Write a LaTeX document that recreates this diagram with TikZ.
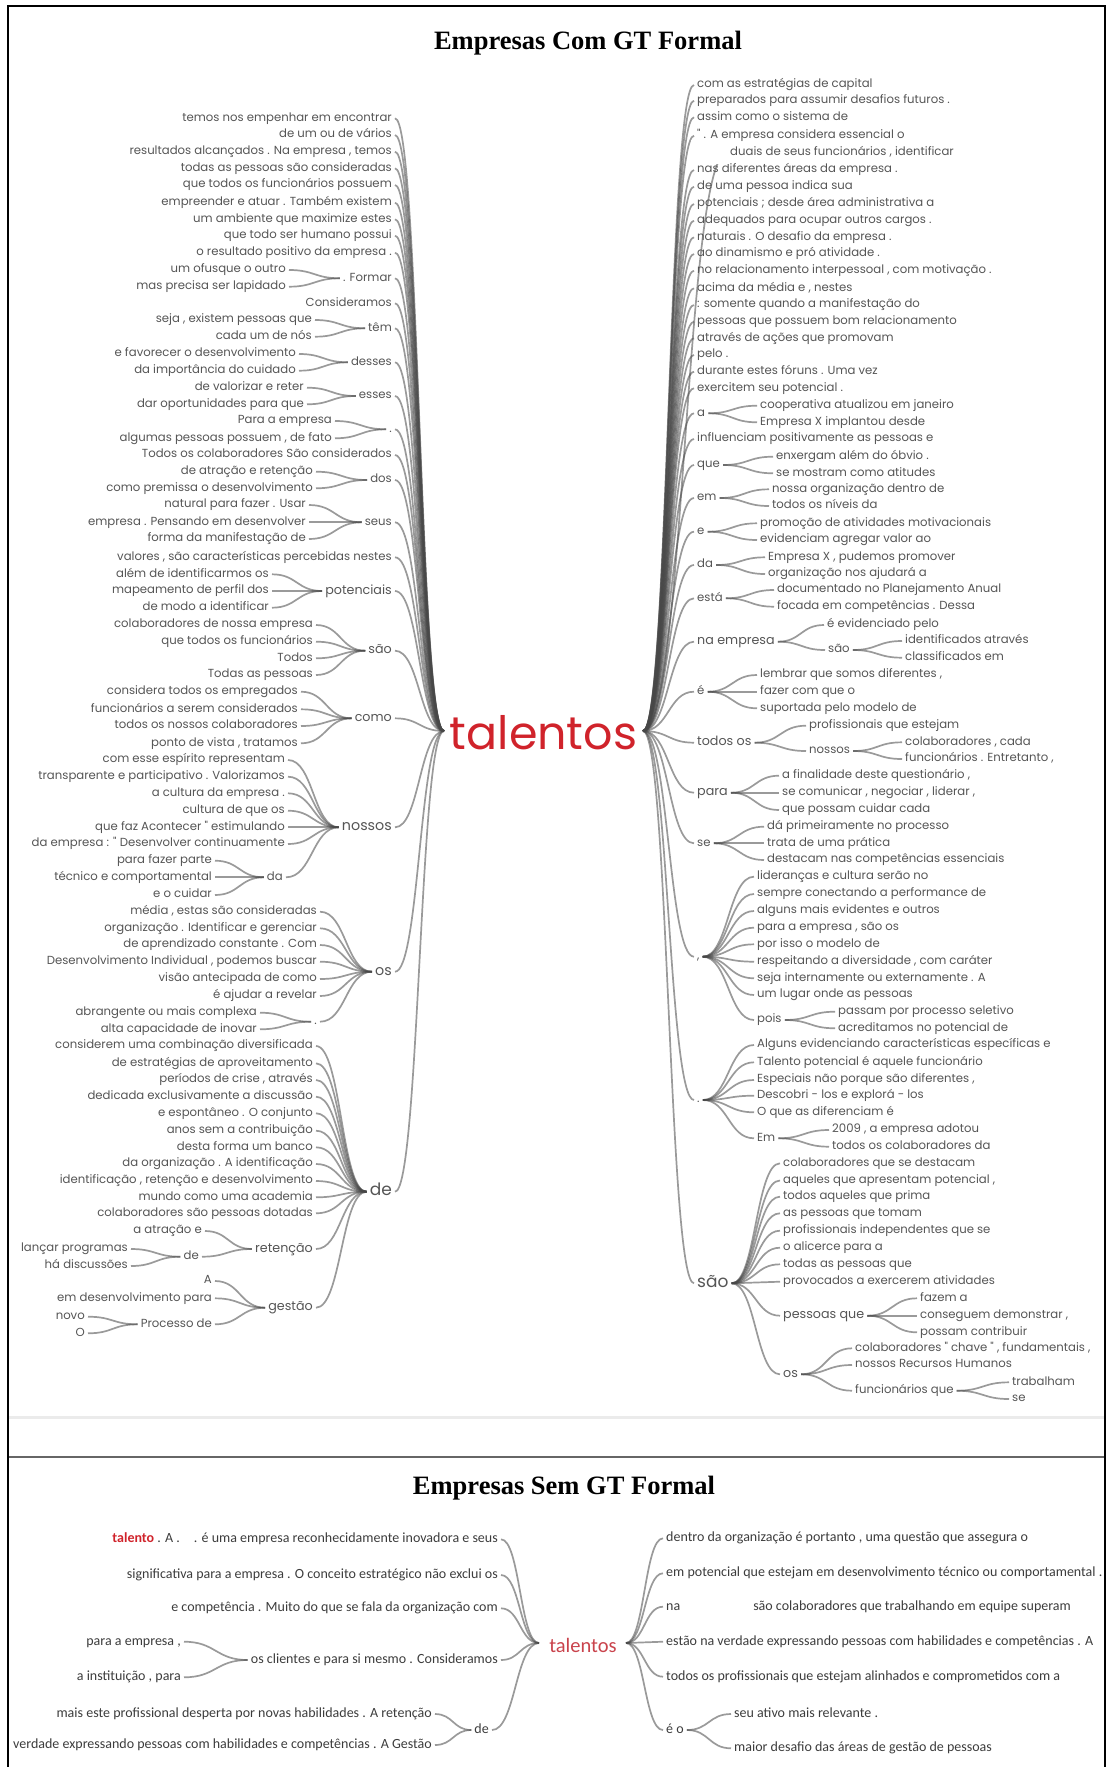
\documentclass[tikz,border=0pt]{standalone}
\usepackage{fontspec}
\setmainfont{Liberation Serif}
\newfontfamily\treefont{Poppins}
\newfontfamily\calfont{Carlito}
\usetikzlibrary{calc}

\definecolor{txt}{HTML}{555555}
\definecolor{btxt}{HTML}{3C3C3C}
\definecolor{hot}{HTML}{D0232B}
\definecolor{hotsoft}{HTML}{C9434C}

\tikzset{
  wt/.style={font=\treefont\fontsize{11.7}{13}\selectfont, text=txt,
    inner xsep=3pt, inner ysep=0pt, text height=8.2pt, text depth=2.4pt},
  wL/.style={wt, anchor=east},
  wR/.style={wt, anchor=west},
  mid/.style={font=\treefont\fontsize{12.7}{14}\selectfont, text height=9pt, text depth=3pt},
  med/.style={font=\treefont\fontsize{14.3}{16}\selectfont, text height=10pt, text depth=3pt},
  big/.style={font=\treefont\fontsize{17}{19}\selectfont, text height=12pt, text depth=4pt},
  bw/.style={font=\calfont\fontsize{14}{16}\selectfont, text=btxt,
    text height=10pt, text depth=3pt},
  link/.style={draw=black!72, draw opacity=0.55, line width=1.7pt},
  title/.style={font=\bfseries\fontsize{26.5}{30}\selectfont, inner sep=0pt},
}

% curved word-tree branch with horizontal ends
\newcommand\tlink[2]{\draw[link] let \p1=(#1), \p2=(#2), \n1={(\x1+\x2)/2} in
  (\p1) .. controls (\n1,\y1) and (\n1,\y2) .. (\p2);}
% child placed to the left / right of its parent
\newcommand\kidL[6][]{\node[wL,#1] (#3) at (#4,#5) {#6}; \tlink{#2}{#3.east}}
\newcommand\kidR[6][]{\node[wR,#1] (#3) at (#4,#5) {#6}; \tlink{#2}{#3.west}}

\begin{document}
\begin{tikzpicture}[x=1pt,y=-1pt]
\useasboundingbox (0,0) rectangle (1107,1767);

% frame and separators
\draw[line width=2.2pt] (8,1767) -- (8,6) -- (1105,6) -- (1105,1767);
\draw[black!8, line width=3pt] (9,1417) -- (1104,1417);
\draw[black!60, line width=2pt] (9,1457) -- (1104,1457);

\node[title] (tA) at (588,43) {Empresas Com GT Formal};
\node[title] (tB) at (564,1488) {Empresas Sem GT Formal};

% ================= upper word tree =================
\node[font=\treefont\fontsize{46}{46}\selectfont, text=hot, inner sep=0pt] (tal) at (543.5,733) {talentos};
\coordinate (hubL) at (444,731);
\coordinate (hubR) at (643,731);

% ---- left branches ----
\kidL{hubL}{l1}{395}{118.3}{temos nos empenhar em encontrar}
\kidL{hubL}{l2}{395}{135}{de um ou de vários}
\kidL{hubL}{l3}{395}{151.7}{resultados alcançados . Na empresa , temos}
\kidL{hubL}{l4}{395}{168.3}{todas as pessoas são consideradas}
\kidL{hubL}{l5}{395}{185}{que todos os funcionários possuem}
\kidL{hubL}{l6}{395}{202.7}{empreender e atuar . Também existem}
\kidL{hubL}{l7}{395}{219.3}{um ambiente que maximize estes}
\kidL{hubL}{l8}{395}{235.7}{que todo ser humano possui}
\kidL{hubL}{l9}{395}{252.7}{o resultado positivo da empresa .}
\kidL{hubL}{l10}{395}{278.3}{. Formar}
  \kidL{l10.west}{l10a}{289}{270}{um ofusque o outro}
  \kidL{l10.west}{l10b}{289}{286.7}{mas precisa ser lapidado}
\kidL{hubL}{l11}{395}{303.3}{Consideramos}
\kidL{hubL}{l12}{395}{328.3}{têm}
  \kidL{l12.west}{l12a}{315}{320}{seja , existem pessoas que}
  \kidL{l12.west}{l12b}{315}{336.7}{cada um de nós}
\kidL{hubL}{l13}{395}{362.3}{desses}
  \kidL{l13.west}{l13a}{299}{354}{e favorecer o desenvolvimento}
  \kidL{l13.west}{l13b}{299}{370.7}{da importância do cuidado}
\kidL{hubL}{l14}{395}{396}{esses}
  \kidL{l14.west}{l14a}{307}{387.7}{de valorizar e reter}
  \kidL{l14.west}{l14b}{307}{404.3}{dar oportunidades para que}
\kidL{hubL}{l15}{395}{429.3}{.}
  \kidL{l15.west}{l15a}{335}{421}{Para a empresa}
  \kidL{l15.west}{l15b}{335}{438.3}{algumas pessoas possuem , de fato}
\kidL{hubL}{l16}{395}{455}{Todos os colaboradores São considerados}
\kidL{hubL}{l17}{395}{480}{dos}
  \kidL{l17.west}{l17a}{316}{471.7}{de atração e retenção}
  \kidL{l17.west}{l17b}{316}{488.3}{como premissa o desenvolvimento}
\kidL{hubL}{l18}{395}{522.3}{seus}
  \kidL{l18.west}{l18a}{309}{505}{natural para fazer . Usar}
  \kidL{l18.west}{l18b}{309}{522.3}{empresa . Pensando em desenvolver}
  \kidL{l18.west}{l18c}{309}{539}{forma da manifestação de}
\kidL{hubL}{l19}{395}{557.3}{valores , são características percebidas nestes}
\kidL[mid]{hubL}{l20}{395}{591}{potenciais}
  \kidL{l20.west}{l20a}{272}{574.3}{além de identificarmos os}
  \kidL{l20.west}{l20b}{272}{591}{mapeamento de perfil dos}
  \kidL{l20.west}{l20c}{272}{607.7}{de modo a identificar}
\kidL[mid]{hubL}{l21}{395}{650.7}{são}
  \kidL{l21.west}{l21a}{316}{625}{colaboradores de nossa empresa}
  \kidL{l21.west}{l21b}{316}{641.7}{que todos os funcionários}
  \kidL{l21.west}{l21c}{316}{658.3}{Todos}
  \kidL{l21.west}{l21d}{316}{675}{Todas as pessoas}
\kidL[mid]{hubL}{l22}{395}{718.3}{como}
  \kidL{l22.west}{l22a}{301}{691.7}{considera todos os empregados}
  \kidL{l22.west}{l22b}{301}{709.3}{funcionários a serem considerados}
  \kidL{l22.west}{l22c}{301}{726}{todos os nossos colaboradores}
  \kidL{l22.west}{l22d}{301}{743.3}{ponto de vista , tratamos}
\kidL[med]{hubL}{l23}{395}{827.3}{nossos}
  \kidL{l23.west}{l23a}{288}{760}{com esse espírito representam}
  \kidL{l23.west}{l23b}{288}{776.7}{transparente e participativo . Valorizamos}
  \kidL{l23.west}{l23c}{288}{793.3}{a cultura da empresa .}
  \kidL{l23.west}{l23d}{288}{810.7}{cultura de que os}
  \kidL{l23.west}{l23e}{288}{827.3}{que faz Acontecer " estimulando}
  \kidL{l23.west}{l23f}{288}{844}{da empresa : " Desenvolver continuamente}
  \kidL{l23.west}{l23g}{286}{877.3}{da}
    \kidL{l23g.west}{l23ga}{215}{860.7}{para fazer parte}
    \kidL{l23g.west}{l23gb}{215}{877.3}{técnico e comportamental}
    \kidL{l23g.west}{l23gc}{215}{895}{e o cuidar}
\kidL[med]{hubL}{l24}{395}{971.7}{os}
  \kidL{l24.west}{l24a}{320}{911.7}{média , estas são consideradas}
  \kidL{l24.west}{l24b}{320}{928.3}{organização . Identificar e gerenciar}
  \kidL{l24.west}{l24c}{320}{945}{de aprendizado constante . Com}
  \kidL{l24.west}{l24d}{320}{961.7}{Desenvolvimento Individual , podemos buscar}
  \kidL{l24.west}{l24e}{320}{979}{visão antecipada de como}
  \kidL{l24.west}{l24f}{320}{996}{é ajudar a revelar}
  \kidL{l24.west}{l24g}{320}{1021.7}{.}
    \kidL{l24g.west}{l24ga}{260}{1012.7}{abrangente ou mais complexa}
    \kidL{l24g.west}{l24gb}{260}{1029.3}{alta capacidade de inovar}
\kidL[big]{hubL}{l25}{395}{1191.7}{de}
  \kidL{l25.west}{l25a}{316}{1046}{considerem uma combinação diversificada}
  \kidL{l25.west}{l25b}{316}{1063.3}{de estratégias de aproveitamento}
  \kidL{l25.west}{l25c}{316}{1080}{períodos de crise , através}
  \kidL{l25.west}{l25d}{316}{1096.7}{dedicada exclusivamente a discussão}
  \kidL{l25.west}{l25e}{316}{1113.3}{e espontâneo . O conjunto}
  \kidL{l25.west}{l25f}{316}{1130.7}{anos sem a contribuição}
  \kidL{l25.west}{l25g}{316}{1147.3}{desta forma um banco}
  \kidL{l25.west}{l25h}{316}{1164}{da organização . A identificação}
  \kidL{l25.west}{l25i}{316}{1181}{identificação , retenção e desenvolvimento}
  \kidL{l25.west}{l25j}{316}{1197.3}{mundo como uma academia}
  \kidL{l25.west}{l25k}{316}{1213.3}{colaboradores são pessoas dotadas}
  \kidL[mid]{l25.west}{l25l}{316}{1249}{retenção}
    \kidL{l25l.west}{l25la}{205}{1231}{a atração e}
    \kidL{l25l.west}{l25lb}{202}{1256.7}{de}
      \kidL{l25lb.west}{l25lba}{131}{1249}{lançar programas}
      \kidL{l25lb.west}{l25lbb}{131}{1266}{há discussões}
  \kidL[mid]{l25.west}{l25m}{316}{1307.7}{gestão}
    \kidL{l25m.west}{l25ma}{215}{1281}{A}
    \kidL{l25m.west}{l25mb}{215}{1298.3}{em desenvolvimento para}
    \kidL{l25m.west}{l25mc}{215}{1324.3}{Processo de}
      \kidL{l25mc.west}{l25mca}{88}{1316.7}{novo}
      \kidL{l25mc.west}{l25mcb}{88}{1333.3}{O}

% ---- right branches ----
\kidR{hubR}{r1}{694}{85}{com as estratégias de capital}
\kidR{hubR}{r2}{694}{100.7}{preparados para assumir desafios futuros .}
\kidR{hubR}{r3}{694}{117.3}{assim como o sistema de}
\kidR{hubR}{r4}{694}{135.7}{" . A empresa considera essencial o}
\kidR{hubR}{r5}{727}{152.7}{duais de seus funcionários , identificar}
\kidR{hubR}{r6}{694}{170}{nas diferentes áreas da empresa .}
\kidR{hubR}{r7}{694}{186.7}{de uma pessoa indica sua}
\kidR{hubR}{r8}{694}{204}{potenciais ; desde área administrativa a}
\kidR{hubR}{r9}{694}{220.7}{adequados para ocupar outros cargos .}
\kidR{hubR}{r10}{694}{237.3}{naturais . O desafio da empresa .}
\kidR{hubR}{r11}{694}{254}{ao dinamismo e pró atividade .}
\kidR{hubR}{r12}{694}{270.7}{no relacionamento interpessoal , com motivação .}
\kidR{hubR}{r13}{694}{288.3}{acima da média e , nestes}
\kidR{hubR}{r14}{694}{305}{: somente quando a manifestação do}
\kidR{hubR}{r15}{694}{321.7}{pessoas que possuem bom relacionamento}
\kidR{hubR}{r16}{694}{338.3}{através de ações que promovam}
\kidR{hubR}{r17}{694}{355}{pelo .}
\kidR{hubR}{r18}{694}{371.7}{durante estes fóruns . Uma vez}
\kidR{hubR}{r19}{694}{388.3}{exercitem seu potencial .}
\kidR{hubR}{r20}{694}{413.3}{a}
  \kidR{r20.east}{r20a}{757}{405.7}{cooperativa atualizou em janeiro}
  \kidR{r20.east}{r20b}{757}{422.3}{Empresa X implantou desde}
\kidR{hubR}{r21}{694}{439}{influenciam positivamente as pessoas e}
\kidR{hubR}{r22}{694}{465}{que}
  \kidR{r22.east}{r22a}{773}{456.7}{enxergam além do óbvio .}
  \kidR{r22.east}{r22b}{773}{473.3}{se mostram como atitudes}
\kidR{hubR}{r23}{694}{498}{em}
  \kidR{r23.east}{r23a}{769}{489.3}{nossa organização dentro de}
  \kidR{r23.east}{r23b}{769}{506}{todos os níveis da}
\kidR{hubR}{r24}{694}{531.7}{e}
  \kidR{r24.east}{r24a}{757}{523.3}{promoção de atividades motivacionais}
  \kidR{r24.east}{r24b}{757}{540}{evidenciam agregar valor ao}
\kidR{hubR}{r25}{694}{565}{da}
  \kidR{r25.east}{r25a}{765}{557.3}{Empresa X , pudemos promover}
  \kidR{r25.east}{r25b}{765}{574}{organização nos ajudará a}
\kidR{hubR}{r26}{694}{598.3}{está}
  \kidR{r26.east}{r26a}{774}{590}{documentado no Planejamento Anual}
  \kidR{r26.east}{r26b}{774}{606.7}{focada em competências . Dessa}
\kidR[mid]{hubR}{r27}{694}{641.7}{na empresa}
  \kidR{r27.east}{r27a}{824}{625}{é evidenciado pelo}
  \kidR{r27.east}{r27b}{825}{650}{são}
    \kidR{r27b.east}{r27ba}{902}{641}{identificados através}
    \kidR{r27b.east}{r27bb}{902}{657.7}{classificados em}
\kidR{hubR}{r28}{694}{691.7}{é}
  \kidR{r28.east}{r28a}{757}{675}{lembrar que somos diferentes ,}
  \kidR{r28.east}{r28b}{757}{691.7}{fazer com que o}
  \kidR{r28.east}{r28c}{757}{708.3}{suportada pelo modelo de}
\kidR[mid]{hubR}{r29}{694}{742.7}{todos os}
  \kidR{r29.east}{r29a}{806}{725.7}{profissionais que estejam}
  \kidR{r29.east}{r29b}{806}{751}{nossos}
    \kidR{r29b.east}{r29ba}{902}{742.3}{colaboradores , cada}
    \kidR{r29b.east}{r29bb}{902}{759}{funcionários . Entretanto ,}
\kidR[mid]{hubR}{r30}{694}{792.7}{para}
  \kidR{r30.east}{r30a}{779}{775.7}{a finalidade deste questionário ,}
  \kidR{r30.east}{r30b}{779}{792.7}{se comunicar , negociar , liderar ,}
  \kidR{r30.east}{r30c}{779}{810}{que possam cuidar cada}
\kidR{hubR}{r31}{694}{843.3}{se}
  \kidR{r31.east}{r31a}{764}{826.7}{dá primeiramente no processo}
  \kidR{r31.east}{r31b}{764}{843.3}{trata de uma prática}
  \kidR{r31.east}{r31c}{764}{860}{destacam nas competências essenciais}
\kidR{hubR}{r32}{694}{956.7}{,}
  \kidR{r32.east}{r32a}{754}{876.7}{lideranças e cultura serão no}
  \kidR{r32.east}{r32b}{754}{894}{sempre conectando a performance de}
  \kidR{r32.east}{r32c}{754}{911}{alguns mais evidentes e outros}
  \kidR{r32.east}{r32d}{754}{927.7}{para a empresa , são os}
  \kidR{r32.east}{r32e}{754}{944.3}{por isso o modelo de}
  \kidR{r32.east}{r32f}{754}{961.7}{respeitando a diversidade , com caráter}
  \kidR{r32.east}{r32g}{754}{978.3}{seja internamente ou externamente . A}
  \kidR{r32.east}{r32h}{754}{995}{um lugar onde as pessoas}
  \kidR{r32.east}{r32i}{754}{1020}{pois}
    \kidR{r32i.east}{r32ia}{835}{1011.7}{passam por processo seletivo}
    \kidR{r32i.east}{r32ib}{835}{1028.3}{acreditamos no potencial de}
\kidR{hubR}{r33}{694}{1100}{.}
  \kidR{r33.east}{r33a}{754}{1045}{Alguns evidenciando características específicas e}
  \kidR{r33.east}{r33b}{754}{1062.3}{Talento potencial é aquele funcionário}
  \kidR{r33.east}{r33c}{754}{1080}{Especiais não porque são diferentes ,}
  \kidR{r33.east}{r33d}{754}{1095.7}{Descobri - los e explorá - los}
  \kidR{r33.east}{r33e}{754}{1112.3}{O que as diferenciam é}
  \kidR{r33.east}{r33f}{754}{1138.3}{Em}
    \kidR{r33f.east}{r33fa}{829}{1130}{2009 , a empresa adotou}
    \kidR{r33f.east}{r33fb}{829}{1146.7}{todos os colaboradores da}
\kidR[big]{hubR}{r34}{694}{1283.3}{são}
  \kidR{r34.east}{r34a}{780}{1163.3}{colaboradores que se destacam}
  \kidR{r34.east}{r34b}{780}{1180.5}{aqueles que apresentam potencial ,}
  \kidR{r34.east}{r34c}{780}{1196.7}{todos aqueles que prima}
  \kidR{r34.east}{r34d}{780}{1213.3}{as pessoas que tomam}
  \kidR{r34.east}{r34e}{780}{1230.7}{profissionais independentes que se}
  \kidR{r34.east}{r34f}{780}{1247.7}{o alicerce para a}
  \kidR{r34.east}{r34g}{780}{1264.3}{todas as pessoas que}
  \kidR{r34.east}{r34h}{780}{1281.7}{provocados a exercerem atividades}
  \kidR[mid]{r34.east}{r34i}{780}{1315.7}{pessoas que}
    \kidR{r34i.east}{r34ia}{917}{1298.3}{fazem a}
    \kidR{r34i.east}{r34ib}{917}{1315.7}{conseguem demonstrar ,}
    \kidR{r34i.east}{r34ic}{917}{1332.3}{possam contribuir}
  \kidR[mid]{r34.east}{r34j}{780}{1374.3}{os}
    \kidR{r34j.east}{r34ja}{852}{1348.3}{colaboradores " chave " , fundamentais ,}
    \kidR{r34j.east}{r34jb}{852}{1365}{nossos Recursos Humanos}
    \kidR{r34j.east}{r34jc}{852}{1390.7}{funcionários que}
      \kidR{r34jc.east}{r34jca}{1009}{1382.3}{trabalham}
      \kidR{r34jc.east}{r34jcb}{1009}{1399}{se}

% blanked-out patch in the upper right list
\fill[white] (691,140) rectangle (729,164);

% ================= lower word tree =================
\node[font=\calfont\fontsize{20.5}{22}\selectfont, text=hotsoft, inner sep=0pt] (tal2) at (583,1645) {talentos};
\coordinate (hubL2) at (539,1643);
\coordinate (hubR2) at (626,1643);

\kidL[bw]{hubL2}{b1}{501}{1539.3}{{\color{hot}\bfseries talento} . A .\hspace{14pt}. é uma empresa reconhecidamente inovadora e seus}
\kidL[bw]{hubL2}{b2}{501}{1575}{significativa para a empresa . O conceito estratégico não exclui os}
\kidL[bw]{hubL2}{b3}{501}{1608.3}{e competência . Muito do que se fala da organização com}
\kidL[bw]{hubL2}{b4}{501}{1660}{os clientes e para si mesmo . Consideramos}
  \kidL[bw]{b4.west}{b4a}{184}{1641.7}{para a empresa ,}
  \kidL[bw]{b4.west}{b4b}{184}{1677.3}{a instituição , para}
\kidL[bw]{hubL2}{b5}{492}{1730}{de}
  \kidL[bw]{b5.west}{b5a}{435}{1714}{mais este profissional desperta por novas habilidades . A retenção}
  \kidL[bw]{b5.west}{b5b}{435}{1745}{verdade expressando pessoas com habilidades e competências . A Gestão}

\kidR[bw]{hubR2}{c1}{663}{1538.3}{dentro da organização é portanto , uma questão que assegura o}
\kidR[bw]{hubR2}{c2}{663}{1573.3}{em potencial que estejam em desenvolvimento técnico ou comportamental .}
\kidR[bw]{hubR2}{c3}{663}{1606.7}{na\hspace{73pt}são colaboradores que trabalhando em equipe superam}
\kidR[bw]{hubR2}{c4}{663}{1641.7}{estão na verdade expressando pessoas com habilidades e competências . A}
\kidR[bw]{hubR2}{c5}{663}{1676.7}{todos os profissionais que estejam alinhados e comprometidos com a}
\kidR[bw]{hubR2}{c6}{663}{1730}{é o}
  \kidR[bw]{c6.east}{c6a}{731}{1714}{seu ativo mais relevante .}
  \kidR[bw]{c6.east}{c6b}{731}{1748.3}{maior desafio das áreas de gestão de pessoas}
\end{tikzpicture}
\end{document}
